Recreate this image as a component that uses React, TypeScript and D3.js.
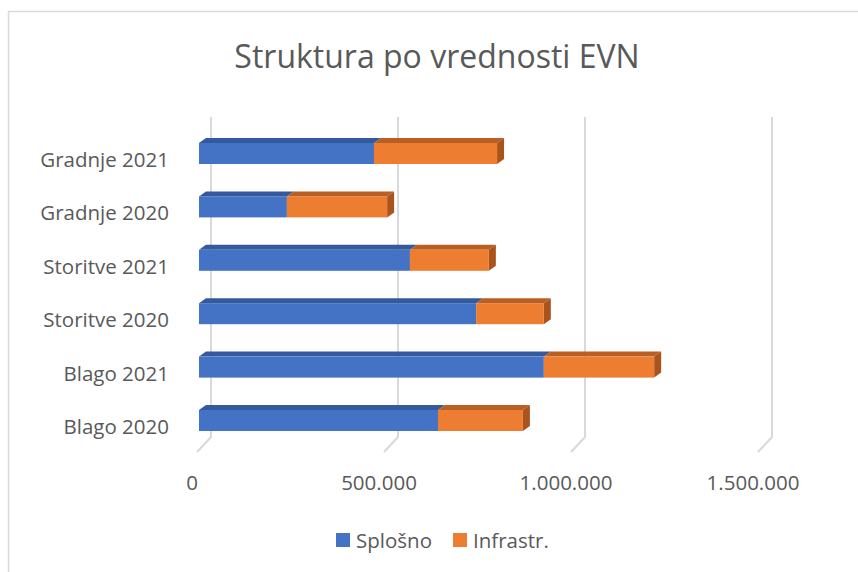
import { useRef, useEffect } from "react";
import * as d3 from "d3";

const categories = ["Gradnje 2021", "Gradnje 2020", "Storitve 2021", "Storitve 2020", "Blago 2021", "Blago 2020"];
const splosno = [468000, 235000, 564000, 741000, 922000, 639000];
const infrastr = [329000, 268000, 211000, 181000, 295000, 227000];
const ticks = [0, 500000, 1000000, 1500000];
const seriesNames = ["Splošno", "Infrastr."];

const W = 858;
const H = 572;
const FONT = "'Open Sans', sans-serif";
const TXT = "#595959";
const FS = 20.5;

export default function App() {
  const svgRef = useRef<SVGSVGElement>(null);

  useEffect(() => {
    const svg = d3.select(svgRef.current);
    svg.selectAll("*").remove();

    const x = d3.scaleLinear().domain([0, 1500000]).range([199, 760]);
    const y = d3.scalePoint<string>().domain(categories).range([143, 410]);
    const barH = 21;
    const bdx = 7, bdy = 5; // bar depth
    const gdx = 12, gTop = 117, gBot = 437, floorY = 452;

    svg.append("rect")
      .attr("x", 8.5).attr("y", 11.5)
      .attr("width", W + 20).attr("height", H + 20)
      .attr("fill", "#fff").attr("stroke", "#d9d9d9").attr("stroke-width", 1.5);

    svg.append("text")
      .attr("x", 437).attr("y", 68)
      .attr("text-anchor", "middle")
      .attr("font-family", FONT).attr("font-size", 32)
      .attr("fill", TXT)
      .text("Struktura po vrednosti EVN");

    // gridlines: back wall + floor
    const grid = svg.append("g").attr("stroke", "#d9d9d9").attr("stroke-width", 2).attr("fill", "none");
    ticks.forEach((t) => {
      grid.append("path").attr("d", `M${x(t) + gdx},${gTop}V${gBot}L${x(t) - 2},${floorY}`);
    });

    svg.append("g")
      .selectAll("text")
      .data(ticks)
      .join("text")
      .attr("x", (d) => x(d) - 7)
      .attr("y", 490)
      .attr("text-anchor", "middle")
      .attr("font-family", FONT).attr("font-size", FS)
      .attr("fill", TXT)
      .text((d) => d3.format(",")(d).replace(/,/g, "."));

    svg.append("g")
      .selectAll("text")
      .data(categories)
      .join("text")
      .attr("x", 169)
      .attr("y", (d) => y(d)! + 24)
      .attr("text-anchor", "end")
      .attr("font-family", FONT).attr("font-size", FS)
      .attr("fill", TXT)
      .text((d) => d);

    const fronts = ["#4472c4", "#ed7d31"];
    const tops = ["#325a9c", "#b95f23"];
    const sides = ["#2f5291", "#a8541c"];

    const bars = svg.append("g");
    categories.forEach((c, i) => {
      const y0 = y(c)!;
      const segs = [
        [0, splosno[i]],
        [splosno[i], splosno[i] + infrastr[i]],
      ];
      segs.forEach(([a, b], s) => {
        const x0 = x(a), x1 = x(b);
        bars.append("path")
          .attr("d", `M${x0},${y0}L${x0 + bdx},${y0 - bdy}H${x1 + bdx}L${x1},${y0}Z`)
          .attr("fill", tops[s]);
        if (s === 1) {
          bars.append("path")
            .attr("d", `M${x1},${y0}L${x1 + bdx},${y0 - bdy}V${y0 - bdy + barH}L${x1},${y0 + barH}Z`)
            .attr("fill", sides[s]);
        }
        bars.append("rect")
          .attr("x", x0).attr("y", y0)
          .attr("width", x1 - x0).attr("height", barH)
          .attr("fill", fronts[s]);
      });
    });

    const legend = svg.append("g").attr("font-family", FONT).attr("font-size", FS).attr("fill", TXT);
    const lx = [336, 453];
    seriesNames.forEach((n, i) => {
      legend.append("rect").attr("x", lx[i]).attr("y", 533).attr("width", 14).attr("height", 14).attr("fill", fronts[i]);
      legend.append("text").attr("x", lx[i] + 20).attr("y", 548).text(n);
    });
  }, []);

  return (
    <svg
      ref={svgRef}
      width={W}
      height={H}
      style={{ position: "absolute", left: 0, top: 0, background: "#fff" }}
    />
  );
}
